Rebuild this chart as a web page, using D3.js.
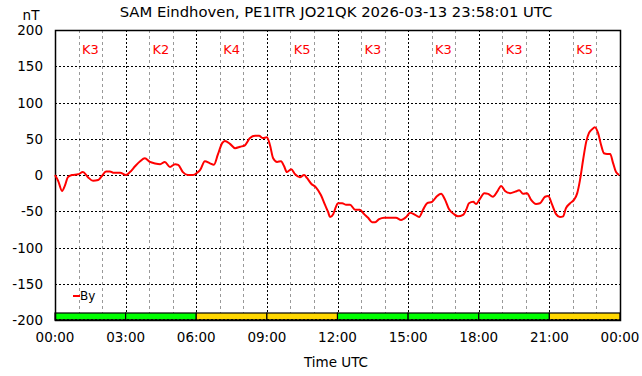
<!DOCTYPE html>
<html><head><meta charset="utf-8">
<script src="https://cdn.jsdelivr.net/npm/d3@7/dist/d3.min.js"></script>
<style>body{margin:0;background:#fff}svg{display:block}text{font-family:"DejaVu Sans",sans-serif}</style>
</head><body>
<svg id="c" width="642" height="376"></svg>
<script>
const title = "SAM Eindhoven, PE1ITR JO21QK 2026-03-13 23:58:01 UTC";
const yTicks = [-200,-150,-100,-50,0,50,100,150,200];
const xTickLabels = ["00:00","03:00","06:00","09:00","12:00","15:00","18:00","21:00","00:00"];
const kValues = [3,2,4,5,3,3,3,5];
const minutes = [0,8,18,25,33,43,59,71,84,97,110,120,130,140,150,166,181,191,204,217,229,242,255,268,280,293,306,314,326,339,352,362,370,382,395,405,415,426,433,446,459,472,484,497,510,520,530,540,548,556,566,576,584,591,602,612,624,635,642,653,665,678,688,696,701,709,716,721,732,742,752,765,777,788,798,808,816,826,839,854,869,882,895,905,918,928,938,948,961,974,984,994,1004,1017,1027,1040,1048,1055,1066,1073,1083,1094,1104,1116,1127,1137,1147,1160,1173,1183,1193,1203,1213,1226,1236,1249,1257,1267,1277,1287,1295,1302,1313,1323,1331,1338,1346,1354,1361,1369,1376,1384,1392,1399,1407,1415,1422,1430,1438];
const byValues = [0,-8,-22,-15,-3,0,1,4,-3,-8,-7,-1,5,5,3,3,0,4,12,19,23,18,16,15,18,11,15,14,4,0,0,3,7,19,16,14,28,44,47,43,37,39,41,51,54,54,51,52,41,23,18,19,12,4,8,1,-3,0,-4,-12,-17,-28,-41,-51,-58,-54,-44,-39,-39,-41,-41,-48,-48,-54,-59,-65,-65,-61,-59,-59,-59,-62,-58,-52,-55,-58,-48,-39,-37,-29,-26,-34,-47,-54,-57,-55,-48,-39,-37,-40,-33,-25,-26,-30,-23,-15,-22,-25,-23,-21,-26,-25,-34,-40,-39,-30,-29,-41,-54,-58,-57,-46,-39,-34,-25,-7,21,46,58,63,66,58,41,30,29,29,17,4,0];

const svg = d3.select("#c");
const L=55,R=620,T=30,B=320;
const x = d3.scaleLinear().domain([0,1440]).range([L,R]);
const y = d3.scaleLinear().domain([-200,200]).range([B,T]);

// minor vertical grid (hourly)
const hours = d3.range(1,24).filter(h=>h%3!==0);
svg.append("g").selectAll("line").data(hours).join("line")
  .attr("x1",d=>Math.round(x(d*60))+0.5).attr("x2",d=>Math.round(x(d*60))+0.5).attr("y1",T).attr("y2",B)
  .attr("stroke","#999").attr("stroke-width",1).attr("stroke-dasharray","3,3");
// major vertical grid
svg.append("g").selectAll("line").data(d3.range(3,24,3)).join("line")
  .attr("x1",d=>Math.round(x(d*60))+0.5).attr("x2",d=>Math.round(x(d*60))+0.5).attr("y1",T).attr("y2",B)
  .attr("stroke","#000").attr("stroke-width",1).attr("stroke-dasharray","2,2");
// horizontal grid
svg.append("g").selectAll("line").data(yTicks.filter(v=>v>-200&&v<200)).join("line")
  .attr("x1",L).attr("x2",R).attr("y1",d=>Math.round(y(d))+0.5).attr("y2",d=>Math.round(y(d))+0.5)
  .attr("stroke","#000").attr("stroke-width",1).attr("stroke-dasharray","2,2");

// K bars
const kColor = k => k>=4 ? "#ffd700" : "#00ff00";
svg.append("g").selectAll("rect").data(kValues).join("rect")
  .attr("x",(d,i)=>x(i*180)).attr("width",x(180)-x(0)).attr("y",y(-200)-7).attr("height",7)
  .attr("fill",d=>kColor(d)).attr("stroke","#000").attr("stroke-width",1.2);
svg.append("line").attr("x1",L).attr("x2",R).attr("y1",B-0.5).attr("y2",B-0.5)
  .attr("stroke","#000").attr("stroke-dasharray","2,2");

// K labels
svg.append("g").selectAll("text").data(kValues).join("text")
  .attr("x",(d,i)=>x(i*180+90)).attr("y",54).attr("text-anchor","middle")
  .attr("font-size",13).attr("fill","#ff0000").text(d=>"K"+d);

// frame
svg.append("rect").attr("x",L+0.5).attr("y",T+0.5).attr("width",R-L).attr("height",B-T)
  .attr("fill","none").attr("stroke","#000").attr("stroke-width",1.5);

// line
const line = d3.line().x((d,i)=>x(minutes[i])).y(d=>y(d)).curve(d3.curveMonotoneX);
svg.append("path").datum(byValues).attr("d",line).attr("fill","none")
  .attr("stroke","#ff0000").attr("stroke-width",2).attr("stroke-linejoin","round");

// y labels
svg.append("g").selectAll("text").data(yTicks).join("text")
  .attr("x",43).attr("y",d=>y(d)+5).attr("text-anchor","end").attr("font-size",13.5).attr("fill","#000")
  .text(d=>d);
// x labels
svg.append("g").selectAll("text").data(xTickLabels).join("text")
  .attr("x",(d,i)=>x(i*180)).attr("y",342).attr("text-anchor","middle").attr("font-size",13.5).attr("fill","#000")
  .text(d=>d);

svg.append("text").attr("x",336).attr("y",367).attr("text-anchor","middle").attr("font-size",13.5).text("Time UTC");
svg.append("text").attr("x",31).attr("y",20).attr("text-anchor","middle").attr("font-size",13.5).text("nT");
svg.append("text").attr("x",336).attr("y",17).attr("text-anchor","middle").attr("font-size",14.8).text(title);

// legend
svg.append("line").attr("x1",73).attr("x2",80).attr("y1",296).attr("y2",296).attr("stroke","#ff0000").attr("stroke-width",2);
svg.append("text").attr("x",80).attr("y",300).attr("font-size",12).text("By");
</script>
</body></html>
